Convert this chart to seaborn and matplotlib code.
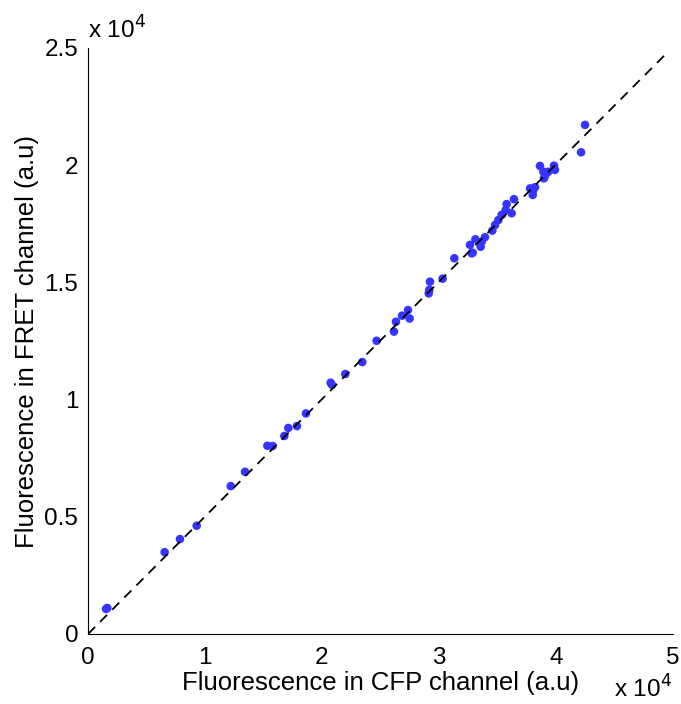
import matplotlib
matplotlib.use("Agg")
import matplotlib.pyplot as plt
import seaborn as sns
import numpy as np
import pandas as pd
from matplotlib.ticker import FuncFormatter

# CFP channel fluorescence (a.u.)
cfp = [1650, 1540, 6550, 7860, 9290, 12200, 13420, 15330, 15780, 16780, 17120, 17860, 18630,
       20740, 20850, 21990, 23440, 24670, 26150, 26320, 26840, 27350, 27490, 29230, 29170, 29120,
       30310, 31310, 32650, 33110, 32880, 32790, 33560, 33650, 33930, 34560, 34790, 35070, 35360,
       35700, 35780, 36210, 36410, 37780, 38060, 38010, 38210, 38630, 38920, 39060, 38970, 39340,
       39830, 39910, 42480, 42140]
# FRET channel fluorescence (a.u.)
fret = [1110, 1070, 3490, 4050, 4620, 6310, 6920, 8030, 8020, 8450, 8790, 8870, 9410,
        10720, 10630, 11090, 11600, 12510, 12900, 13320, 13580, 13820, 13460, 15030, 14680, 14530,
        15160, 16030, 16600, 16840, 16270, 16240, 16520, 16740, 16930, 17210, 17450, 17660, 17880,
        18090, 18340, 17950, 18550, 19010, 18940, 18730, 19060, 19970, 19720, 19540, 19440, 19720,
        19980, 19800, 21720, 20550]
# dashed reference line
line_x = [0, 49300]
line_y = [0, 24700]

df = pd.DataFrame({"cfp": cfp, "fret": fret})
sns.set_style("white")
plt.rcParams["font.family"] = ["Liberation Sans", "DejaVu Sans"]
plt.rcParams["text.color"] = "black"
plt.rcParams["axes.labelcolor"] = "black"

fig = plt.figure(figsize=(6.81, 7.04), dpi=100)
ax = fig.add_axes([88/681, 1-634/704, (673-88)/681, (634-48)/704])

sns.scatterplot(data=df, x="cfp", y="fret", ax=ax, color="#3535ff", s=38,
                edgecolor="none", linewidth=0, zorder=2)
sns.lineplot(x=line_x, y=line_y, ax=ax, color="black", linestyle=(0, (5.5, 4)),
             linewidth=1.3, zorder=3)

ax.set_xlim(0, 50000)
ax.set_ylim(0, 25000)
ax.set_xticks(np.arange(0, 50001, 10000))
ax.set_yticks(np.arange(0, 25001, 5000))
fmt = FuncFormatter(lambda v, p: f"{v/1e4:g}")
ax.xaxis.set_major_formatter(fmt)
ax.yaxis.set_major_formatter(fmt)
ax.tick_params(direction="in", length=5, width=0.8, labelsize=17.5, colors="black")
ax.tick_params(axis="x", pad=9)
ax.tick_params(axis="y", pad=7)
for s in ["top", "right"]:
    ax.spines[s].set_visible(False)
for s in ["left", "bottom"]:
    ax.spines[s].set_color("black")
    ax.spines[s].set_linewidth(0.8)

ax.set_xlabel("Fluorescence in CFP channel (a.u)", fontsize=18.5, labelpad=2, color="black")
ax.set_ylabel("Fluorescence in FRET channel (a.u)", fontsize=18.5, labelpad=4, color="black")

fig.text(88/681, 1-39/704, r"x 10$^4$", fontsize=17.5, ha="left", va="baseline", color="black")
fig.text(614/681, 1-698/704, r"x 10$^4$", fontsize=17.5, ha="left", va="baseline", color="black")

fig.savefig("out.png", dpi=100, facecolor="white")
